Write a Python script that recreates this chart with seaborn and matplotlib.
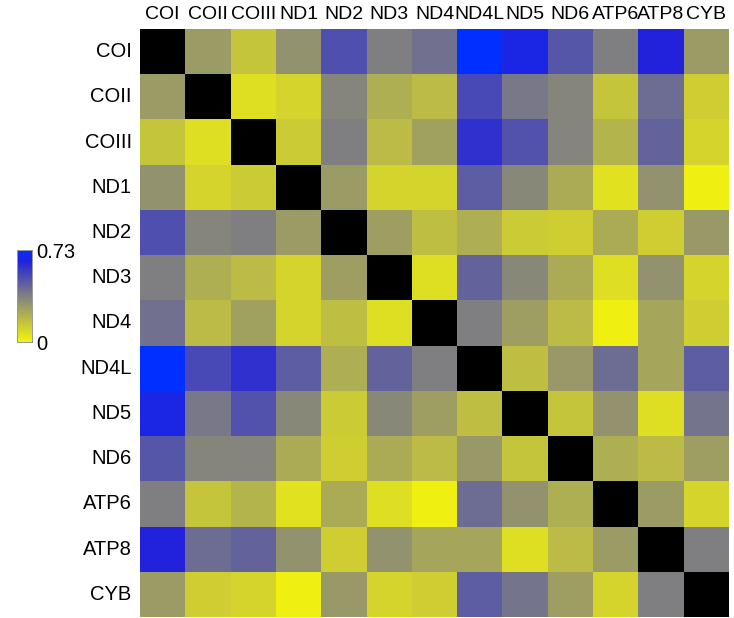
import numpy as np
import pandas as pd
import seaborn as sns
import matplotlib.pyplot as plt
from matplotlib.colors import LinearSegmentedColormap

plt.rcParams['font.family'] = ['Liberation Sans', 'DejaVu Sans']

genes = ['COI', 'COII', 'COIII', 'ND1', 'ND2', 'ND3', 'ND4',
         'ND4L', 'ND5', 'ND6', 'ATP6', 'ATP8', 'CYB']

# upper triangle, row by row (distance values)
row_COI = [0.28, 0.15, 0.31, 0.51, 0.37, 0.41, 0.73, 0.66, 0.49, 0.37, 0.64, 0.28]
row_COII = [0.07, 0.10, 0.35, 0.22, 0.18, 0.53, 0.39, 0.35, 0.15, 0.42, 0.12]
row_COIII = [0.13, 0.37, 0.18, 0.26, 0.60, 0.50, 0.35, 0.20, 0.45, 0.10]
row_ND1 = [0.28, 0.10, 0.10, 0.47, 0.34, 0.23, 0.06, 0.31, 0.015]
row_ND2 = [0.27, 0.17, 0.22, 0.13, 0.12, 0.23, 0.12, 0.29]
row_ND3 = [0.07, 0.45, 0.34, 0.23, 0.07, 0.31, 0.10]
row_ND4 = [0.37, 0.27, 0.18, 0.015, 0.25, 0.12]
row_ND4L = [0.17, 0.29, 0.42, 0.25, 0.47]
row_ND5 = [0.15, 0.31, 0.07, 0.40]
row_ND6 = [0.22, 0.18, 0.27]
row_ATP6 = [0.28, 0.10]
row_ATP8 = [0.37]

rows = [row_COI, row_COII, row_COIII, row_ND1, row_ND2, row_ND3, row_ND4,
        row_ND4L, row_ND5, row_ND6, row_ATP6, row_ATP8]

n = len(genes)
mat = np.zeros((n, n))
for i, r in enumerate(rows):
    mat[i, i + 1:] = r
mat = mat + mat.T
df = pd.DataFrame(mat, index=genes, columns=genes)
mask = np.eye(n, dtype=bool)

cmap = LinearSegmentedColormap.from_list(
    'ygb', [(0.0, '#f4f40c'), (0.5, '#808080'), (0.88, '#2222dc'), (1.0, '#0030ff')])

fig = plt.figure(figsize=(7.34, 6.18), dpi=100)
ax = fig.add_axes([140 / 734, 1 - 617 / 618, 589 / 734, 588 / 618])
cax = fig.add_axes([17 / 734, 1 - 342 / 618, 15 / 734, 92 / 618])

sns.heatmap(df, mask=mask, cmap=cmap, vmin=0, vmax=0.73, ax=ax, cbar_ax=cax,
            cbar_kws={'ticks': [0, 0.73]})
ax.set_facecolor('black')
ax.xaxis.tick_top()
ax.tick_params(axis='x', length=0, labelsize=14, pad=4)
ax.tick_params(axis='y', length=0, labelsize=14.5, pad=6)
plt.setp(ax.get_xticklabels(), rotation=0)
plt.setp(ax.get_yticklabels(), rotation=0)
ax.set_xlabel('')
ax.set_ylabel('')

cax.tick_params(length=0, labelsize=14.5, pad=3)
cax.set_yticklabels(['0', '0.73'])
for spine in cax.spines.values():
    spine.set_visible(True)
    spine.set_color('#999999')
    spine.set_linewidth(0.6)

fig.savefig('out.png', dpi=100)
